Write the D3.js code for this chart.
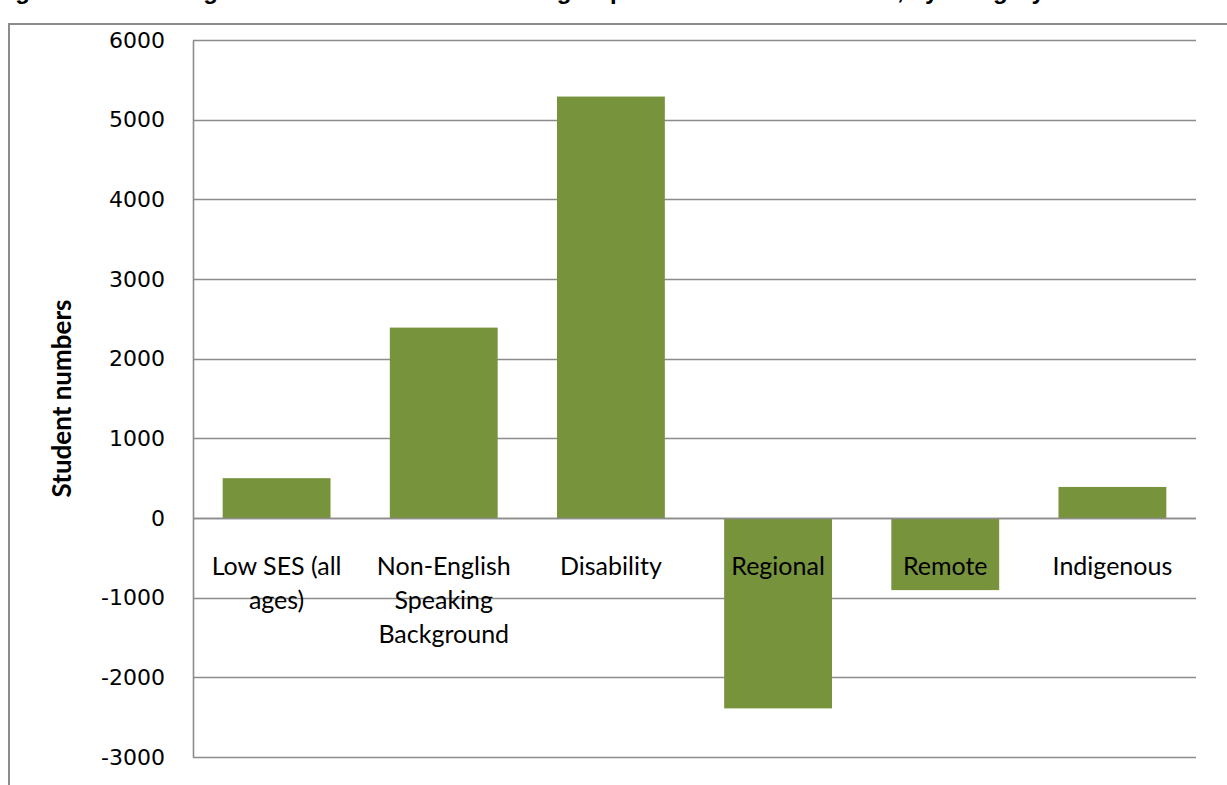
<!DOCTYPE html>
<html>
<head>
<meta charset="utf-8">
<script src="https://cdn.jsdelivr.net/npm/d3@7"></script>
<style>
  body { margin: 0; background: #fff; }
  svg { display: block; }
</style>
</head>
<body>
<svg width="1227" height="785"></svg>
<script>
var svg = d3.select('svg');
var width = +svg.attr('width');
var height = +svg.attr('height');

// data
var categories = ['Low SES (all ages)', 'Non-English Speaking Background', 'Disability', 'Regional', 'Remote', 'Indigenous'];
var values = [500, 2390, 5290, -2390, -905, 390];
var yTicks = [6000, 5000, 4000, 3000, 2000, 1000, 0, -1000, -2000, -3000];
var titleText = 'Figure 4: Net change in student numbers in each group between 2008 and 2012, by category';
var yTitle = 'Student numbers';

var barColor = '#77933c';
var gridColor = '#8c8c8c';

var margin = { left: 193, right: 30, top: 40, bottom: 28 };

// cut-off title at the very top
svg.append('text')
	.attr('x', -6)
	.attr('y', -1)
	.attr('font-family', 'Liberation Sans, Arial, sans-serif')
	.attr('font-weight', 'bold')
	.attr('font-size', 24)
	.attr('fill', '#000')
	.text(titleText);

// outer frame (top and left edges visible)
svg.append('path')
	.attr('d', 'M1227,24 H9 V785')
	.attr('fill', 'none')
	.attr('stroke', gridColor)
	.attr('stroke-width', 2);

var x = d3.scaleBand()
	.domain(categories)
	.range([margin.left, 1196])
	.paddingInner(0.55 / 1.55)
	.paddingOuter(0.55 / 1.55 / 2);

var y = d3.scaleLinear()
	.domain([-3000, 6000])
	.range([757, 40]);

// gridlines
svg.append('g')
	.selectAll('line')
	.data(yTicks)
	.enter()
	.append('line')
	.attr('x1', margin.left)
	.attr('x2', 1196)
	.attr('y1', d => Math.round(y(d)) + 0.5)
	.attr('y2', d => Math.round(y(d)) + 0.5)
	.attr('stroke', gridColor)
	.attr('stroke-width', 1.6);

// y axis
var yAxis = d3.axisLeft(y).tickValues(yTicks).tickSize(0).tickPadding(28).tickFormat(d => String(d));
var yAxisG = svg.append('g')
	.attr('transform', 'translate(' + margin.left + ',0)')
	.call(yAxis);
yAxisG.attr('font-family', 'DejaVu Sans, Verdana, sans-serif').attr('font-size', 22);
yAxisG.select('.domain').attr('stroke', gridColor).attr('stroke-width', 1.6);
yAxisG.selectAll('text')
	.style('font-family', '"DejaVu Sans", Verdana, sans-serif')
	.style('font-size', '22px')
	.attr('fill', '#000');

// bars
svg.append('g')
	.selectAll('rect')
	.data(values)
	.enter()
	.append('rect')
	.attr('x', (d, i) => x(categories[i]))
	.attr('width', x.bandwidth())
	.attr('y', d => y(Math.max(0, d)))
	.attr('height', d => Math.abs(y(d) - y(0)))
	.attr('fill', barColor);

// zero line on top of bars
svg.append('line')
	.attr('x1', margin.left)
	.attr('x2', 1196)
	.attr('y1', Math.round(y(0)) + 0.5)
	.attr('y2', Math.round(y(0)) + 0.5)
	.attr('stroke', gridColor)
	.attr('stroke-width', 1.6);

// category labels, wrapped to band width
var labelG = svg.append('g');
categories.forEach(function (c) {
	var cx = x(c) + x.bandwidth() / 2;
	var t = labelG.append('text')
		.attr('x', cx)
		.attr('y', 575)
		.attr('text-anchor', 'middle')
		.attr('font-family', 'Lato, Open Sans, sans-serif')
		.attr('font-size', 25)
		.attr('fill', '#000');
	var words = c.split(' ');
	var line = [];
	var tspan = t.append('tspan').attr('x', cx).attr('dy', 0);
	words.forEach(function (w) {
		line.push(w);
		tspan.text(line.join(' '));
		if (tspan.node().getComputedTextLength() > 155 && line.length > 1) {
			line.pop();
			tspan.text(line.join(' '));
			line = [w];
			tspan = t.append('tspan').attr('x', cx).attr('dy', 34).text(w);
		}
	});
});

// y axis title
svg.append('text')
	.attr('transform', 'translate(71,' + y(1500) + ') rotate(-90)')
	.attr('text-anchor', 'middle')
	.attr('font-family', 'Lato, Open Sans, sans-serif')
	.attr('font-weight', 'bold')
	.attr('font-size', 26)
	.attr('fill', '#000')
	.text(yTitle);
</script>
</body>
</html>
